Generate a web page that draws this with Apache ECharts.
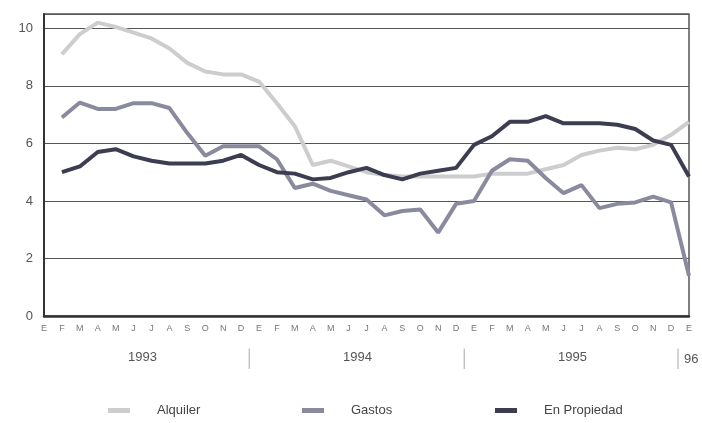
<!DOCTYPE html>
<html>
<head>
<meta charset="utf-8">
<script src="https://cdn.jsdelivr.net/npm/echarts@6/dist/echarts.min.js"></script>
<style>
html,body{margin:0;padding:0;background:#fff;}
#chart{width:702px;height:423px;}
</style>
</head>
<body>
<div id="chart"></div>
<script>
var months = ['E','F','M','A','M','J','J','A','S','O','N','D',
              'E','F','M','A','M','J','J','A','S','O','N','D',
              'E','F','M','A','M','J','J','A','S','O','N','D',
              'E'];
var yearLabels = {5.5:'1993', 11.5:'|', 17.5:'1994', 23.5:'|', 29.5:'1995', 36:'|96'};
var alquiler = [null,9.1,9.8,10.2,10.05,9.85,9.65,9.3,8.8,8.5,8.4,8.4,
                8.15,7.4,6.6,5.25,5.4,5.2,5.0,4.9,4.85,4.85,4.85,4.85,
                4.85,4.95,4.95,4.95,5.1,5.25,5.6,5.75,5.85,5.8,5.95,6.3,
                6.75];
var gastos = [null,6.9,7.42,7.2,7.2,7.4,7.4,7.23,6.36,5.57,5.9,5.9,
              5.9,5.45,4.45,4.6,4.35,4.2,4.05,3.5,3.65,3.7,2.9,3.9,
              4.0,5.05,5.45,5.4,4.8,4.27,4.55,3.75,3.9,3.95,4.15,3.95,
              1.4];
var propiedad = [null,5.0,5.2,5.7,5.8,5.55,5.4,5.3,5.3,5.3,5.4,5.6,
                 5.25,5.0,4.95,4.75,4.8,5.0,5.15,4.9,4.75,4.95,5.05,5.15,
                 5.95,6.25,6.75,6.75,6.95,6.7,6.7,6.7,6.65,6.5,6.1,5.95,
                 4.85];
var names = ['Alquiler','Gastos','En Propiedad'];
var colors = ['#cdcdd0','#8a8a9f','#3d3d52'];

var chart = echarts.init(document.getElementById('chart'));
var font = 'Liberation Sans, Arial, sans-serif';
function legendAt(i, left){
  return {data:[names[i]], left:left, top:399, icon:'rect', itemWidth:22, itemHeight:5,
    textStyle:{fontFamily:font, fontSize:13, color:'#444', padding:[0,0,0,22]}};
}
chart.setOption({
  animation:false,
  backgroundColor:'#fff',
  grid:{left:44, right:13, top:14, bottom:107, show:true, borderColor:'#555', borderWidth:1.5,
        containLabel:false, outerBoundsMode:'none'},
  legend:[legendAt(0,103), legendAt(1,297), legendAt(2,490)],
  xAxis:[{
    type:'category', data:months, boundaryGap:false,
    axisLine:{lineStyle:{color:'#333', width:2.5}},
    axisTick:{show:false},
    axisLabel:{interval:0, fontFamily:font, fontSize:9, color:'#777', margin:8},
    splitLine:{show:false}
  },{
    type:'value', min:0, max:36, interval:0.5, position:'bottom', offset:27,
    axisLine:{show:false}, axisTick:{show:false}, splitLine:{show:false},
    axisLabel:{fontFamily:font, fontSize:13, color:'#555', showMinLabel:true, showMaxLabel:true,
      formatter:function(v){
        var t = yearLabels[v];
        if(t==='|') return '{s|│}';
        if(t==='|96') return '{s|│}{y|96}';
        return t||'';
      },
      rich:{s:{color:'#bbb', fontSize:17}, y:{color:'#555', fontSize:13, fontFamily:font, padding:[0,6,0,0]}}}
  }],
  yAxis:{
    type:'value', min:0, max:10.5, interval:2,
    axisLine:{show:true, lineStyle:{color:'#333', width:2}},
    axisTick:{show:false},
    axisLabel:{fontFamily:font, fontSize:13, color:'#555', margin:11,
      formatter:function(v){ return (v%2===0) ? String(v) : ''; }},
    splitLine:{lineStyle:{color:'#555', width:1.2}}
  },
  series:[
    {name:names[0], type:'line', data:alquiler, xAxisIndex:0, showSymbol:false, symbol:'none',
     lineStyle:{color:colors[0], width:4}, itemStyle:{color:colors[0]}, z:2},
    {name:names[1], type:'line', data:gastos, xAxisIndex:0, showSymbol:false, symbol:'none',
     lineStyle:{color:colors[1], width:4}, itemStyle:{color:colors[1]}, z:3},
    {name:names[2], type:'line', data:propiedad, xAxisIndex:0, showSymbol:false, symbol:'none',
     lineStyle:{color:colors[2], width:4}, itemStyle:{color:colors[2]}, z:4}
  ]
});
</script>
</body>
</html>
